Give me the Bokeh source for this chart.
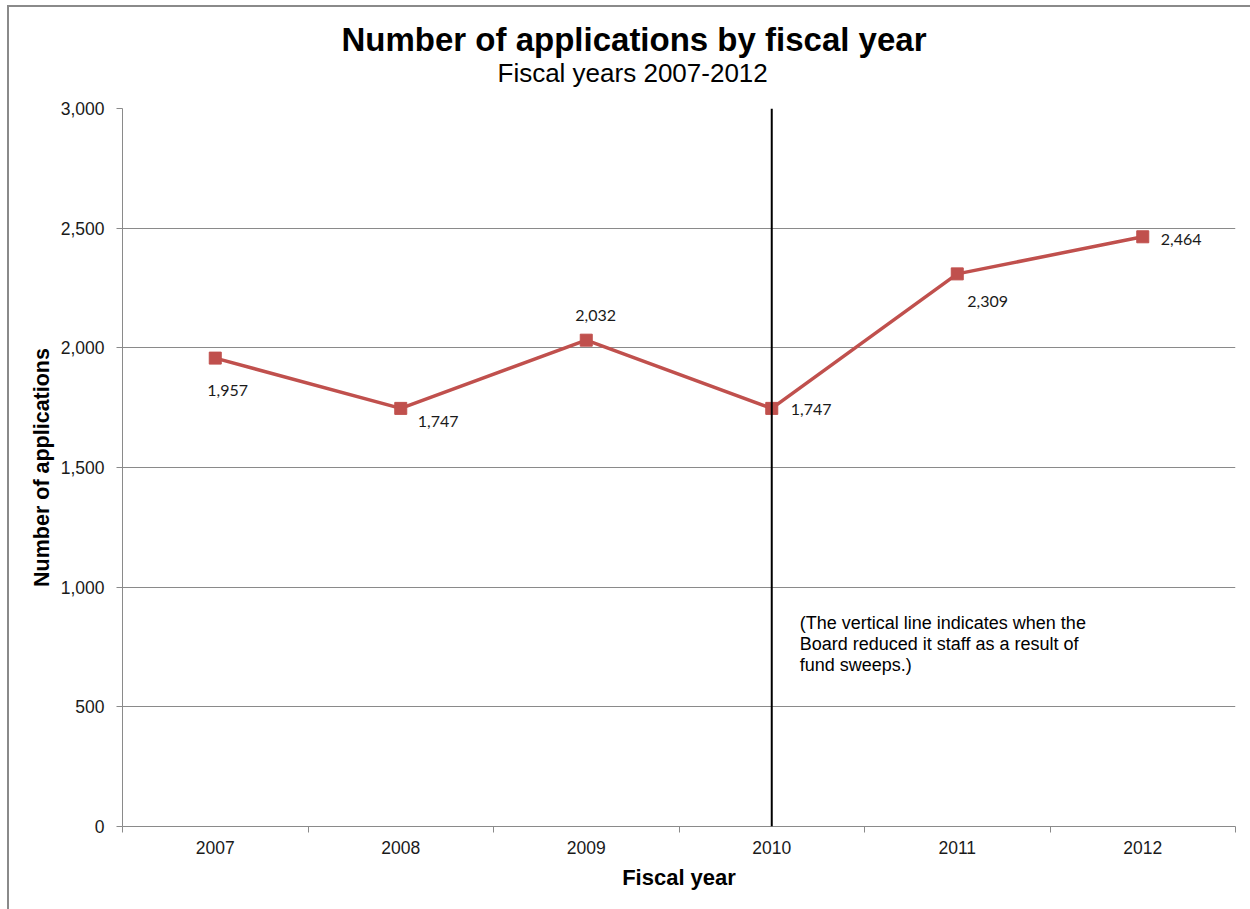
from bokeh.plotting import figure
from bokeh.models import (Range1d, FixedTicker, NumeralTickFormatter, Span, Label, Title,
                          ColumnDataSource)
from bokeh.core.properties import value
from bokeh.embed import file_html
from bokeh.resources import INLINE

# ---- data ----
years = ["2007", "2008", "2009", "2010", "2011", "2012"]
applications = [1957, 1747, 2032, 1747, 2309, 2464]
labels = ["1,957", "1,747", "2,032", "1,747", "2,309", "2,464"]
y_ticks = [0, 500, 1000, 1500, 2000, 2500, 3000]
marker_year = "2010"
title_text = "Number of applications by fiscal year"
subtitle_text = "Fiscal years 2007-2012"
note = "(The vertical line indicates when the\nBoard reduced it staff as a result of\nfund sweeps.)"

# label offsets (pixels, screen direction)
lab_dx = [-8, 17, -11, 19, 10, 18]
lab_dy = [32, 13, -25, 1, 28, 3]

xs = [i + 0.5 for i in range(len(years))]
src = ColumnDataSource(dict(x=xs, y=applications, lab=labels, dx=lab_dx, dy=lab_dy))

FONT = "Liberation Sans"

p = figure(frame_width=1113, frame_height=718, output_backend="svg", toolbar_location=None,
           x_range=Range1d(0, len(years)), y_range=Range1d(0, 3000),
           min_border_left=113, min_border_right=15, min_border_top=101, min_border_bottom=83,
           title=None)
p.styles = {"margin-left": "7px", "margin-top": "5px",
            "border-left": "2px solid #8a8a8a", "border-top": "2px solid #8a8a8a"}
p.outline_line_color = None
p.background_fill_color = "white"
p.border_fill_color = "white"

# titles
sub = Title(text=subtitle_text, align="left", offset=375,
            text_font=FONT, text_font_size="26px", text_font_style="normal",
            text_color="black", standoff=42)
p.add_layout(sub, "above")
main = Title(text=title_text, align="left", offset=219,
             text_font=FONT, text_font_size="33px", text_font_style="bold",
             text_color="black", standoff=-46)
p.add_layout(main, "above")

# x axis
p.xaxis.ticker = FixedTicker(ticks=xs, minor_ticks=list(range(len(years) + 1)))
p.xaxis.major_label_overrides = {x: y for x, y in zip(xs, years)}
p.xaxis.major_tick_line_color = None
p.xaxis.minor_tick_line_color = "#8a8a8a"
p.xaxis.minor_tick_out = 6
p.xaxis.minor_tick_in = 0
p.xaxis.axis_line_color = "#8a8a8a"
p.xaxis.major_label_text_font = FONT
p.xaxis.major_label_text_font_size = "17.5px"
p.xaxis.major_label_text_color = "#1a1a1a"
p.xaxis.major_label_standoff = 8
p.xaxis.axis_label = "Fiscal year"
p.xaxis.axis_label_text_font = FONT
p.xaxis.axis_label_text_font_size = "22px"
p.xaxis.axis_label_text_font_style = "bold"
p.xaxis.axis_label_text_color = "black"
p.xaxis.axis_label_standoff = 8

# y axis
p.yaxis.ticker = FixedTicker(ticks=y_ticks)
p.yaxis.formatter = NumeralTickFormatter(format="0,0")
p.yaxis.major_tick_line_color = "#8a8a8a"
p.yaxis.major_tick_out = 6
p.yaxis.major_tick_in = 0
p.yaxis.minor_tick_line_color = None
p.yaxis.axis_line_color = "#8a8a8a"
p.yaxis.major_label_text_font = FONT
p.yaxis.major_label_text_font_size = "17.5px"
p.yaxis.major_label_text_color = "#1a1a1a"
p.yaxis.major_label_standoff = 12
p.yaxis.axis_label = "Number of applications"
p.yaxis.axis_label_text_font = FONT
p.yaxis.axis_label_text_font_size = "21.5px"
p.yaxis.axis_label_text_font_style = "bold"
p.yaxis.axis_label_text_color = "black"
p.yaxis.axis_label_standoff = 4

p.xgrid.grid_line_color = None
p.ygrid.grid_line_color = "#8a8a8a"
p.ygrid.grid_line_width = 1

# vertical marker line
vx = xs[years.index(marker_year)]
p.add_layout(Span(location=vx, dimension="height", line_color="black", line_width=2))

# series
p.line("x", "y", source=src, line_color="#C0504D", line_width=3.5)
p.scatter("x", "y", source=src, marker="square", size=12, fill_color="#C0504D",
          line_color="#C0504D")
p.text("x", "y", text="lab", source=src, x_offset="dx", y_offset="dy",
       text_font=value("Lato"), text_font_size="16px", text_color="#1a1a1a",
       text_align="left", text_baseline="middle")

# note
p.add_layout(Label(x=vx, y=893, x_offset=28, text=note, text_font=FONT,
                   text_font_size="18px", text_color="black", text_baseline="top",
                   text_align="left", text_line_height=1.05))

open("out.html", "w").write(file_html(p, INLINE))
